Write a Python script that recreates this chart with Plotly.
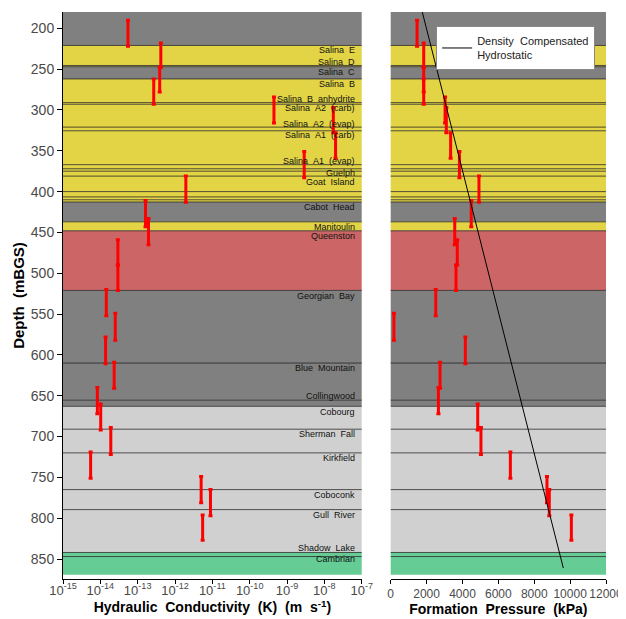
import plotly.graph_objects as go

# ---------------- data ----------------
layer_names = ["", "Salina E", "Salina D", "Salina C", "Salina B", "Salina B anhydrite",
               "Salina A2 (carb)", "Salina A2 (evap)", "Salina A1 (carb)", "Salina A1 (evap)",
               "", "Guelph", "Goat Island", "", "", "", "Cabot Head", "Manitoulin", "Queenston",
               "Georgian Bay", "Blue Mountain", "Collingwood", "Cobourg", "Sherman Fall",
               "Kirkfield", "Coboconk", "Gull River", "Shadow Lake", "Cambrian"]
layer_top = [180, 221, 245.5, 247, 262, 291, 293, 321, 325.5, 367, 372, 375, 381, 400, 406.5,
             410, 412.7, 437, 448, 521, 610, 655.5, 663, 691, 720, 765, 789.5, 842, 847]
layer_bottom = layer_top[1:] + [869.2]
layer_kind = ["shale", "evap", "evap", "shale", "evap", "evap", "evap", "evap", "evap", "evap",
              "evap", "evap", "evap", "evap", "evap", "evap", "shale", "evap", "red",
              "shale", "shale", "shale", "lime", "lime", "lime", "lime", "lime", "sand", "sand"]
label_depth = [None, 226, 241, 254, 268, 286, 298, 317, 331, 362, None, 377, 388, None, None,
               None, 419, 443, 454, 528, 616, 650, 670, 697, 726, 771, 796, 837, 850]

interval_top = [190, 218, 248, 262, 284, 297, 328, 351, 381, 411, 433, 459, 490, 520, 549,
                578, 609, 640, 660, 689, 719, 749, 765, 796]
interval_bottom = [222, 248, 278, 293, 316, 328, 359, 383, 413, 443, 465, 490, 521, 552, 582,
                   611, 641, 672, 692, 722, 751, 781, 797, 827]
log_k = [-13.26, -12.38, -12.41, -12.57, -9.35, -7.76, -7.70, -8.54, -11.71, -12.79, -12.71,
         -13.53, -13.53, -13.84, -13.60, -13.86, -13.63, -14.08, -13.99, -13.72, -14.26,
         -11.30, -11.05, -11.26]
pressure = [1470, 1840, 1840, 1840, 3030, 3100, 3340, 3830, 4920, 4490, 3570, 3710, 3640,
            2510, 180, 4160, 2750, 2660, 4850, 5030, 6670, 8710, 8840, 10070]

hydro_pressure = [1760, 9620]
hydro_depth = [180, 861]

k_tick_exp = [-15, -14, -13, -12, -11, -10, -9, -8, -7]
p_ticks = [0, 2000, 4000, 6000, 8000, 10000, 12000]
depth_ticks = [200, 250, 300, 350, 400, 450, 500, 550, 600, 650, 700, 750, 800, 850]

colors = {"shale": "#808080", "evap": "#E3D446", "red": "#CC6666",
          "lime": "#D0D0D0", "sand": "#66CC95"}

# ---------------- figure ----------------
fig = go.Figure()

mid = [(a + b) / 2 for a, b in zip(interval_top, interval_bottom)]
half = [(b - a) / 2 for a, b in zip(interval_top, interval_bottom)]
k_vals = [10 ** v for v in log_k]

err = dict(type="data", array=half, symmetric=True, color="#FF0000", thickness=3, width=2)
fig.add_trace(go.Scatter(x=k_vals, y=mid, mode="markers", marker=dict(size=1, color="rgba(0,0,0,0)"),
                         error_y=err, xaxis="x", yaxis="y", showlegend=False, hoverinfo="skip"))
fig.add_trace(go.Scatter(x=pressure, y=mid, mode="markers", marker=dict(size=1, color="rgba(0,0,0,0)"),
                         error_y=err, xaxis="x2", yaxis="y2", showlegend=False, hoverinfo="skip"))
fig.add_trace(go.Scatter(x=hydro_pressure, y=hydro_depth, mode="lines",
                         line=dict(color="black", width=1),
                         name="Density\u00a0\u00a0Compensated<br>Hydrostatic",
                         xaxis="x2", yaxis="y2", showlegend=True))

shapes = []
for xref in ["x domain", "x2 domain"]:
    for t, b, k in zip(layer_top, layer_bottom, layer_kind):
        shapes.append(dict(type="rect", xref=xref, yref="y", x0=0, x1=1, y0=t, y1=b,
                           fillcolor=colors[k], line=dict(width=0), layer="below"))
    for t in layer_top[1:]:
        shapes.append(dict(type="line", xref=xref, yref="y", x0=0, x1=1, y0=t, y1=t,
                           line=dict(color="rgba(30,30,30,0.75)", width=1), layer="below"))
fig.update_layout(shapes=shapes)

annotations = []
for name, d in zip(layer_names, label_depth):
    if name and d is not None:
        annotations.append(dict(text=name.replace(" ", "\u00a0\u00a0"), xref="x domain", yref="y",
                                x=0.985, y=d, xanchor="right", yanchor="middle", showarrow=False,
                                font=dict(size=9, color="#111", family="Liberation Sans, Arial")))
fig.update_layout(annotations=annotations)

tick_font = dict(size=13, color="#4a4a4a", family="Liberation Sans, Arial")
title_font = dict(size=14, color="black", family="Liberation Sans, Arial")

# the page body adds an 8 px offset, so the figure is 8 px smaller and margins compensate
fig.update_layout(
    width=618, height=611,
    margin=dict(l=55, r=20, t=4, b=40),
    paper_bgcolor="white", plot_bgcolor="white",
    font=dict(family="Liberation Sans, Arial"),
    xaxis=dict(type="log", domain=[0, 0.5501], range=[-15, -7],
               tickvals=[10 ** e for e in k_tick_exp],
               ticktext=["10<sup>%d</sup>" % e for e in k_tick_exp],
               tickfont=tick_font, ticks="outside", ticklen=4, tickcolor="black",
               ticklabelstandoff=-5, tickangle=0,
               showline=True, linecolor="black", linewidth=1, showgrid=False, zeroline=False,
               title=dict(text="<b>Hydraulic\u00a0\u00a0Conductivity\u00a0\u00a0(K)\u00a0\u00a0(m\u00a0\u00a0s<sup>-1</sup>)</b>",
                          font=title_font, standoff=2),
               automargin=False, anchor="y"),
    yaxis=dict(range=[874.5, 180], tickvals=depth_ticks, tickfont=dict(size=14, color="#4a4a4a"),
               ticks="outside", ticklen=5, tickcolor="black", showline=True, linecolor="black",
               linewidth=1, showgrid=False, zeroline=False,
               title=dict(text="<b>Depth\u00a0\u00a0(mBGS)</b>", font=dict(size=15, color="black"),
                          standoff=2),
               automargin=False, anchor="x"),
    xaxis2=dict(domain=[0.6035, 1], range=[0, 12000], tickvals=p_ticks,
                ticktext=[str(v) for v in p_ticks],
                tickfont=dict(size=12, color="#4a4a4a", family="Liberation Sans, Arial"),
                ticks="outside", ticklen=4, tickcolor="black",
                showline=True, linecolor="black", linewidth=1, showgrid=False, zeroline=False,
                title=dict(text="<b>Formation\u00a0\u00a0Pressure\u00a0\u00a0(kPa)</b>",
                           font=title_font, standoff=2),
                automargin=False, anchor="y2"),
    yaxis2=dict(matches="y", range=[874.5, 180], showticklabels=False, ticks="",
                showline=False, showgrid=False, zeroline=False, anchor="x2"),
    legend=dict(x=0.98, y=0.975, xanchor="right", yanchor="top",
                bgcolor="white", bordercolor="#888", borderwidth=1,
                font=dict(size=11, color="#222"), tracegroupgap=0, itemwidth=30),
)

fig.write_html("out.html")
